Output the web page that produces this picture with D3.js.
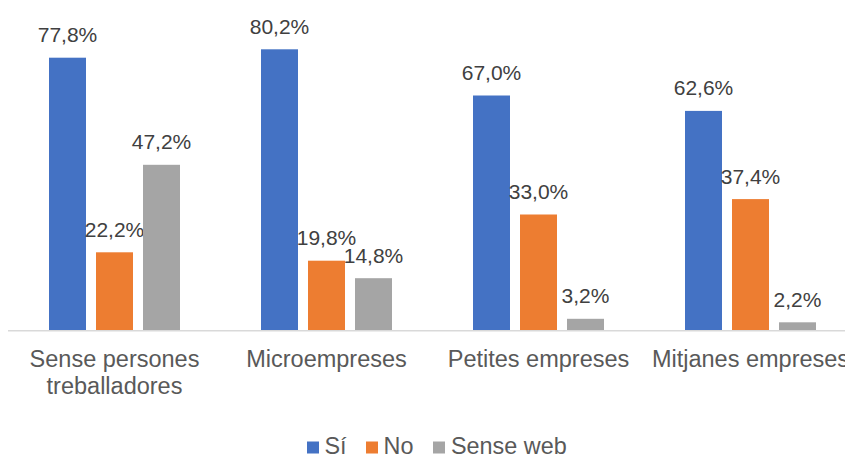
<!DOCTYPE html>
<html>
<head>
<meta charset="utf-8">
<script src="https://cdn.jsdelivr.net/npm/d3@7"></script>
<style>
  html, body { margin: 0; padding: 0; background: #ffffff; }
  svg { display: block; font-family: "Liberation Sans", Arial, sans-serif; }
</style>
</head>
<body>
<div id="chart"></div>
<script>
const categories = [["Sense persones", "treballadores"], ["Microempreses"], ["Petites empreses"], ["Mitjanes empreses"]];
const seriesNames = ["Sí", "No", "Sense web"];
const seriesColors = ["#4472C4", "#ED7D31", "#A5A5A5"];
const valuesSi = [77.8, 80.2, 67.0, 62.6];
const valuesNo = [22.2, 19.8, 33.0, 37.4];
const valuesSenseWeb = [47.2, 14.8, 3.2, 2.2];
const seriesValues = [valuesSi, valuesNo, valuesSenseWeb];

const W = 845, H = 457;
const svg = d3.select("#chart").append("svg").attr("width", W).attr("height", H);

const baseY = 330;
const x0 = d3.scaleBand().domain(d3.range(categories.length)).range([8.5, 8.5 + 212 * 4]).paddingInner(0).paddingOuter(0);
const groupW = 37 * 3 + 10 * 2;
const x1 = d3.scaleBand().domain(d3.range(seriesNames.length)).range([0, groupW]).paddingInner(10 / 47).paddingOuter(0);
const y = d3.scaleLinear().domain([0, 100]).range([baseY, baseY - 350]);

const fmt = v => d3.format(".1f")(v).replace(".", ",") + "%";

const groups = svg.selectAll("g.grp").data(categories).join("g")
  .attr("class", "grp")
  .attr("transform", (d, i) => `translate(${x0(i) + (x0.bandwidth() - groupW) / 2},0)`);

groups.each(function(cat, ci) {
  const g = d3.select(this);
  seriesValues.forEach((vals, si) => {
    const v = vals[ci];
    g.append("rect")
      .attr("x", x1(si))
      .attr("y", y(v))
      .attr("width", x1.bandwidth())
      .attr("height", y(0) - y(v))
      .attr("fill", seriesColors[si]);
    g.append("text")
      .attr("x", x1(si) + x1.bandwidth() / 2)
      .attr("y", y(v) - 15.5)
      .attr("text-anchor", "middle")
      .attr("font-size", "21px")
      .attr("fill", "#404040")
      .text(fmt(v));
  });
});

// axis baseline
svg.append("line")
  .attr("x1", 8).attr("x2", W)
  .attr("y1", baseY + 0.75).attr("y2", baseY + 0.75)
  .attr("stroke", "#d9d9d9").attr("stroke-width", 1.5);

// category labels
const xAxisG = svg.append("g");
categories.forEach((lines, ci) => {
  const t = xAxisG.append("text")
    .attr("x", x0(ci) + x0.bandwidth() / 2)
    .attr("y", 366.5)
    .attr("text-anchor", "middle")
    .attr("font-size", "23.5px")
    .attr("fill", "#595959");
  lines.forEach((ln, li) => {
    t.append("tspan").attr("x", x0(ci) + x0.bandwidth() / 2).attr("dy", li === 0 ? 0 : 27).text(ln);
  });
});

// legend
const legendItems = [
  { sq: 307, tx: 324.5 },
  { sq: 366, tx: 383.5 },
  { sq: 433, tx: 451 }
];
const lg = svg.append("g");
seriesNames.forEach((name, i) => {
  lg.append("rect")
    .attr("x", legendItems[i].sq).attr("y", 441.5)
    .attr("width", 12).attr("height", 12)
    .attr("fill", seriesColors[i]);
  lg.append("text")
    .attr("x", legendItems[i].tx).attr("y", 453.5)
    .attr("font-size", "23.4px")
    .attr("fill", "#595959")
    .text(name);
});
</script>
</body>
</html>
